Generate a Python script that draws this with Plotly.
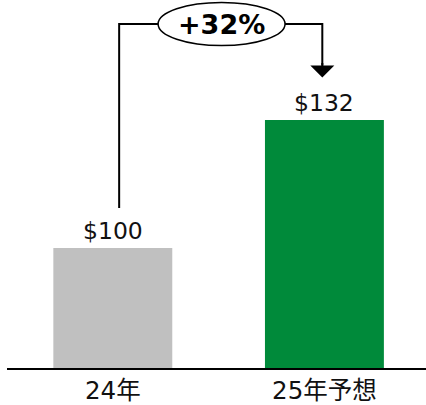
import plotly.graph_objects as go

# Data
categories = ["24年", "25年予想"]
values = [100, 132]
value_labels = ["$100", "$132"]
bar_colors = ["#C0C0C0", "#008A3A"]
growth_label = "+32%"

FONT = "DejaVu Sans, Verdana, Noto Sans CJK JP, sans-serif"

x_pos = list(range(len(categories)))

fig = go.Figure()
fig.add_trace(go.Bar(
    x=x_pos,
    y=values,
    width=0.562,
    marker=dict(color=bar_colors, line=dict(width=0)),
    hoverinfo="skip",
))

# Value labels above each bar
for xi, v, lab in zip(x_pos, values, value_labels):
    fig.add_annotation(
        x=xi, y=v, text=lab, showarrow=False,
        xanchor="center", yanchor="bottom", yshift=1,
        font=dict(family=FONT, size=23.5, color="#111111"),
    )

# Growth bracket: up from the first bar, across, and down to the second
bracket_y = max(values) + 24
left_x = x_pos[0] + 0.03
right_x = x_pos[1] - 0.01
left_bottom = values[0] + 10
arrow_tip = values[1] + 10.6

fig.add_shape(
    type="path",
    path=f"M {left_x},{left_bottom} L {left_x},{bracket_y} L {right_x},{bracket_y} L {right_x},{arrow_tip + 3}",
    line=dict(color="black", width=2),
    xref="x", yref="y",
)
fig.add_annotation(
    x=right_x, y=arrow_tip, ax=right_x, ay=arrow_tip + 4,
    xref="x", yref="y", axref="x", ayref="y",
    showarrow=True, arrowhead=1, arrowsize=2.0, arrowwidth=2,
    arrowcolor="black", text="", standoff=0,
)

# Ellipse badge with the growth figure
mid_x = (x_pos[0] + x_pos[1]) / 2 + 0.014
fig.add_shape(
    type="circle",
    x0=mid_x - 0.30, x1=mid_x + 0.30,
    y0=bracket_y - 5.4, y1=bracket_y + 5.4,
    xref="x", yref="y",
    line=dict(color="black", width=1.5),
    fillcolor="white",
)
fig.add_annotation(
    x=mid_x, y=bracket_y, text=f"<b>{growth_label}</b>", showarrow=False,
    xanchor="center", yanchor="middle",
    font=dict(family=FONT, size=27, color="black"),
)

fig.update_layout(
    width=426, height=405,
    margin=dict(l=7, r=0, t=0, b=32),
    plot_bgcolor="white", paper_bgcolor="white",
    showlegend=False,
    xaxis=dict(
        range=[-0.5, 1.48],
        tickmode="array", tickvals=x_pos, ticktext=categories,
        showline=True, linecolor="black", linewidth=2,
        showgrid=False, zeroline=False, ticks="",
        tickfont=dict(family=FONT, size=24.5, color="#111111"),
        fixedrange=True,
    ),
    yaxis=dict(
        range=[70, 162],
        visible=False, showgrid=False, zeroline=False,
        fixedrange=True,
    ),
)

fig.write_html("out.html", config={"displayModeBar": False})
